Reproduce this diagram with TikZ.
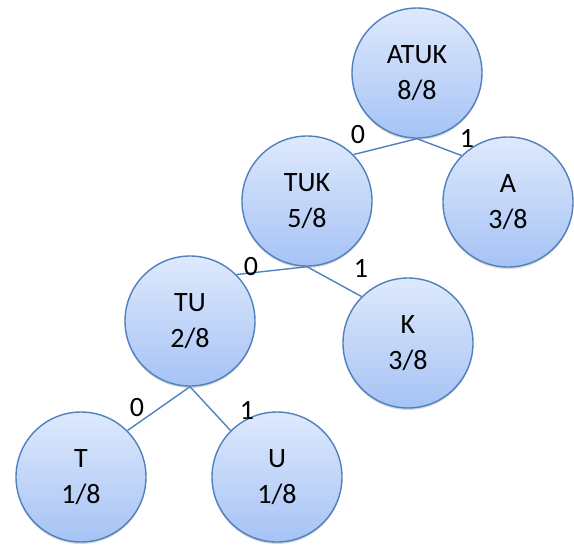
\documentclass[tikz,border=0pt]{standalone}
\usepackage{fontspec}
\setmainfont{Carlito}
\usetikzlibrary{shadows}
\definecolor{rim}{RGB}{79,129,189}
\definecolor{filltop}{RGB}{222,233,252}
\definecolor{fillbot}{RGB}{166,195,245}
\tikzset{
  huff/.style={circle, draw=rim, line width=1.4pt, minimum size=130pt, inner sep=0pt,
    top color=filltop, bottom color=fillbot, align=center,
    font=\fontsize{28}{36}\selectfont,
    drop shadow={shadow xshift=0pt, shadow yshift=-2pt, opacity=0.25, fill=black!60}},
  branch/.style={draw=rim, line width=1.4pt},
  bit/.style={font=\fontsize{28}{30}\selectfont, inner sep=0pt}
}
\begin{document}
\begin{tikzpicture}[x=1pt,y=-1pt]
\useasboundingbox (0,0) rectangle (574,547);
% tree nodes
\node[huff] (atuk) at (417,73)  {ATUK\\8/8};
\node[huff] (a)    at (508,202) {A\\3/8};
\node[huff] (tuk)  at (307,201) {TUK\\5/8};
\node[huff] (k)    at (408,343) {K\\3/8};
\node[huff] (tu)   at (190,321) {TU\\2/8};
\node[huff] (t)    at (81,477)  {T\\1/8};
\node[huff] (u)    at (277,477) {U\\1/8};
% branches
\draw[branch] (atuk.south) -- (tuk.north east);
\draw[branch] (atuk.south) -- (a.north west);
\draw[branch] (tuk.south) -- (tu.north east);
\draw[branch] (tuk.south) -- (k.north west);
\draw[branch] (tu.south) -- (t.north east);
\draw[branch] (tu.south) -- (u.north west);
% branch labels
\node[bit] (l1) at (358,135) {0};
\node[bit] (l2) at (467,138) {1};
\node[bit] (l3) at (251,267) {0};
\node[bit] (l4) at (361,268) {1};
\node[bit] (l5) at (137,408) {0};
\node[bit] (l6) at (247,410) {1};
\end{tikzpicture}
\end{document}
